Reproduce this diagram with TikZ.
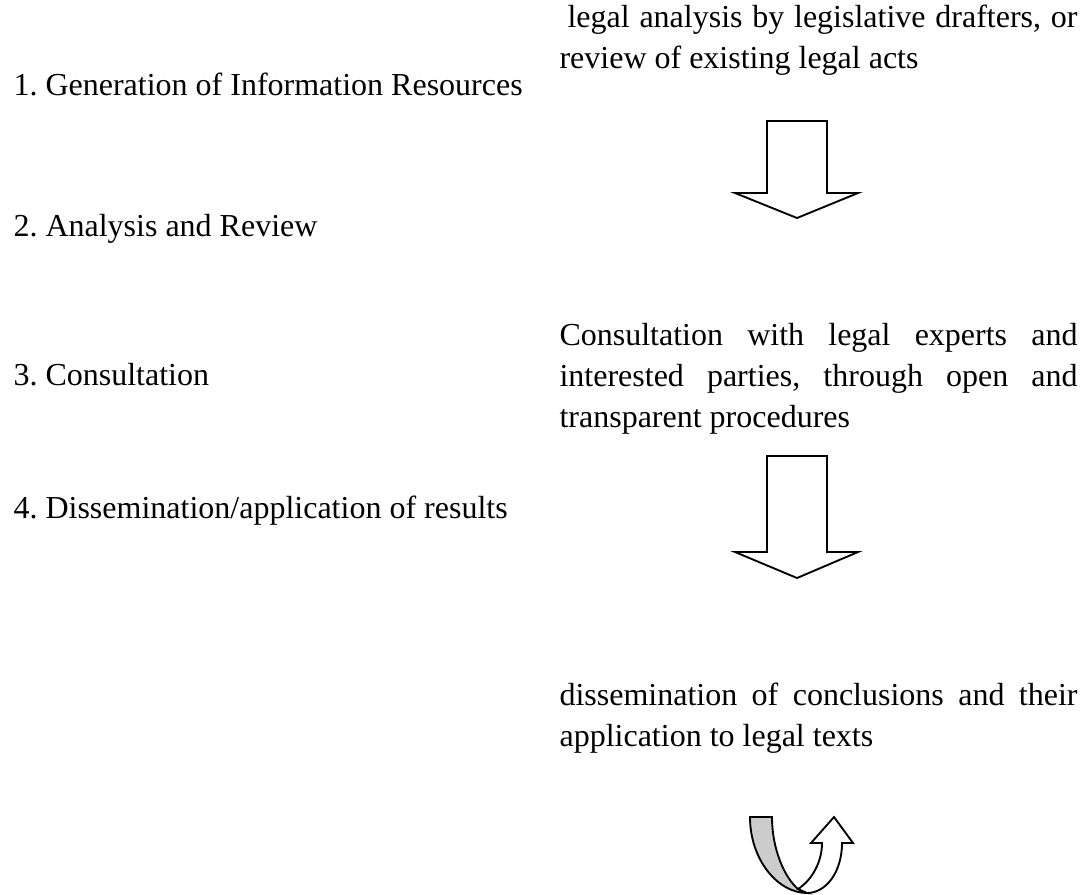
\documentclass[tikz,border=0pt]{standalone}
\usepackage{fontspec}
\setmainfont{Liberation Serif}
\usetikzlibrary{calc}
\frenchspacing
\tikzset{
  item/.style={anchor=base west,inner sep=0pt,font=\fontsize{12}{15.4}\selectfont},
  para/.style={item,text width=194.25pt,align=justify},
  blockarrow/.style={draw=black,line width=0.7pt,fill=white,line join=miter}
}
\begin{document}
\begin{tikzpicture}[x=0.375pt,y=-0.375pt]
\useasboundingbox (0,0) rectangle (1084,894);
% left column
\node[item](gen)at(13,95){1. Generation of Information Resources};
\node[item](ana)at(13,236){2. Analysis and Review};
\node[item](con)at(13,385){3. Consultation};
\node[item](dis)at(13,518){4. Dissemination/application of results};
% right column
\node[para](txtA)at(559,27){\hspace*{0.25em}legal analysis by legislative drafters, or\linebreak review of existing legal acts};
\node[para](txtB)at(559,345){Consultation with legal experts and\linebreak interested parties, through open and\linebreak transparent procedures};
\node[para](txtC)at(559,705){dissemination of conclusions and their\linebreak application to legal texts};
\foreach \t/\b/\e in {121/193/218, 456/552/578}
  \draw[blockarrow](767,\t)--(827,\t)--(827,\b)--(858,\b)--(797,\e)--(735,\b)--(767,\b)--cycle;
% u-turn
\draw[blockarrow,fill=black!20](750,817)--(772,817) .. controls (772,850) and (785,878) .. (798,889)--(807,893) .. controls (778,893) and (750,860) .. (750,817)--cycle;
\draw[blockarrow](798,889) .. controls (812,880) and (822,862) .. (822,843)--(811,843)--(834,817)--(853,843)--(842,843) .. controls (842,872) and (826,893) .. (807,893)--cycle;
\end{tikzpicture}
\end{document}
